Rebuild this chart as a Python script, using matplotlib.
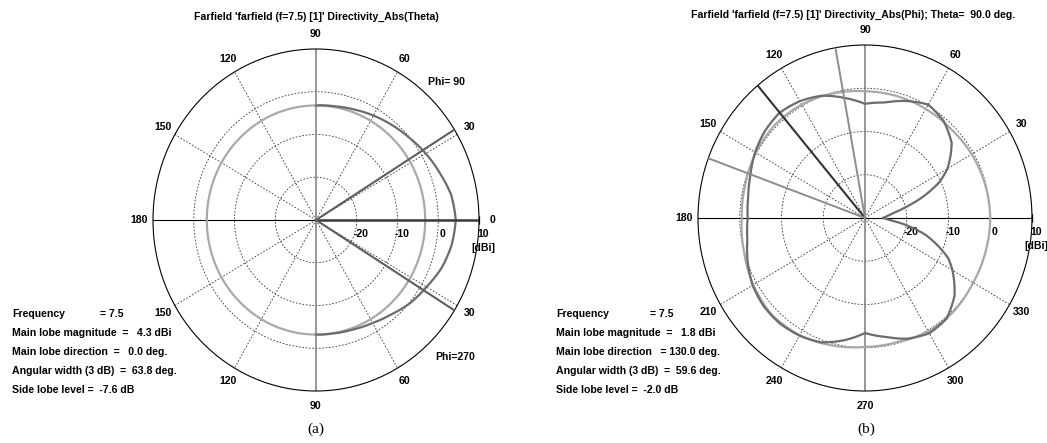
import numpy as np
import matplotlib
matplotlib.use("Agg")
import matplotlib.pyplot as plt

# --- dane ---
W_PX, H_PX = 1047, 443
R_MIN, R_MAX = -30, 10
R_GRID = [-20, -10, 0]
R_LABELS = ["-20", "-10", "0", "10"]
R_LABEL_POS = [-20, -10, 0, 10]
SPOKES = [30, 60, 120, 150, 210, 240, 300, 330]
LABEL_ANG = [0, 30, 60, 90, 120, 150, 180, 210, 240, 270, 300, 330]

# (a) Directivity_Abs(Theta)
LABELS_A = ["0", "30", "60", "90", "120", "150", "180", "150", "120", "90", "60", "30"]
DARK_A_ANG = [90, 80, 70, 60, 50, 40, 30, 20, 10, 0,
              -10, -20, -30, -40, -50, -60, -70, -80, -90]
DARK_A_DB = [-3.2, -3.0, -2.5, -1.8, -1.0, -0.1, 1.1, 2.3, 3.7, 4.3,
             3.8, 2.8, 1.3, 0.2, -1.2, -2.2, -2.8, -3.1, -3.2]
LIGHT_A_DB = -3.2
MAIN_DIR_A, WIDTH_A = 0.0, 63.8
INFO_A = ["Main lobe magnitude  =   4.3 dBi",
          "Main lobe direction  =   0.0 deg.",
          "Angular width (3 dB)  =  63.8 deg.",
          "Side lobe level =  -7.6 dB"]

# (b) Directivity_Abs(Phi)
LABELS_B = ["", "30", "60", "90", "120", "150", "180", "210", "240", "270", "300", "330"]
DARK_B_ANG = [0, 5, 10, 15, 20, 25, 30, 35, 40, 50, 60, 70, 80, 90, 100, 110, 120,
              130, 140, 150, 160, 170, 180, 190, 200, 210, 220, 230, 240, 250, 260,
              270, 280, 290, 300, 310, 320, 330, 335, 340, 345, 350, 355, 360]
DARK_B_DB = [-25.7, -24.7, -23.0, -19.5, -14.8, -10.3, -7.2, -5.0, -2.9, -0.7, 0.3,
             -1.2, -2.9, -3.6, -1.8, 0.1, 1.2, 1.8, 1.3, 0.4, -0.8, -1.6, -1.9, -1.4,
             -0.1, 1.1, 1.7, 1.8, 1.4, 0.6, -1.3, -3.4, -2.1, -0.3, 0.8, 0.4, -2.0,
             -5.8, -8.0, -11.5, -15.0, -19.5, -24.0, -25.7]
LIGHT_B_ANG = [0, 15, 30, 45, 60, 75, 90, 105, 120, 135, 150, 165, 180, 195, 210,
               225, 240, 255, 270, 285, 300, 315, 330, 345, 360]
LIGHT_B_DB = [0.0, -0.2, -0.5, -0.9, -0.9, -0.8, -0.7, -0.2, 0.3, 0.5, 0.2, -0.3,
              -0.5, 0.0, 0.9, 1.6, 1.3, 0.5, -0.2, -0.3, 0.3, 0.3, -0.1, -0.1, 0.0]
MAIN_DIR_B, WIDTH_B = 130.0, 59.6
INFO_B = ["Main lobe magnitude  =   1.8 dBi",
          "Main lobe direction   = 130.0 deg.",
          "Angular width (3 dB)  =  59.6 deg.",
          "Side lobe level =  -2.0 dB"]

FONT = ["Liberation Sans Narrow", "Liberation Sans", "DejaVu Sans"]
TXT = dict(family=FONT, fontweight="bold", fontsize=7.6, color="black")
DARK, LIGHT = "#6c6c6c", "#a9a9a9"


def fx(x):
    return x / W_PX


def fy(y):
    return 1 - y / H_PX


def curve(ax, ang, db, **kw):
    # krzywa rysowana jako łuki w układzie biegunowym, nie cięciwy
    ln, = ax.plot(np.deg2rad(ang), db, solid_joinstyle="round", **kw)
    ln.get_path()._interpolation_steps = 16
    return ln


def make_polar(fig, cx, cy, rx, ry, labels):
    ax = fig.add_axes([fx(cx - rx), fy(cy + ry), 2 * rx / W_PX, 2 * ry / H_PX],
                      projection="polar")
    ax.set_aspect("auto")
    ax.set_ylim(R_MIN, R_MAX)
    ax.set_xticks(np.deg2rad(SPOKES))
    ax.set_yticks(R_GRID)
    ax.set_xticklabels([])
    ax.set_yticklabels([])
    ax.tick_params(length=0)
    ax.grid(True, linestyle=(0, (2, 2)), linewidth=0.6, color="#333333")
    ax.spines["polar"].set_linewidth(0.8)
    # osie
    for a in (0, 180):
        ax.plot([np.deg2rad(a)] * 2, [R_MIN, R_MAX], color="black", lw=0.8, zorder=2)
    for a in (90, 270):
        ax.plot([np.deg2rad(a)] * 2, [R_MIN, R_MAX], color="#7a7a7a", lw=1.1, zorder=2)
    ax.plot([0], [R_MAX], marker="|", ms=6, mew=0.9, color="black", clip_on=False)
    for a, lab in zip(LABEL_ANG, labels):
        ax.text(np.deg2rad(a), 13.4, lab, ha="center", va="center", **TXT)
    for r, lab in zip(R_LABEL_POS, R_LABELS):
        ax.annotate(lab, (0, r), xytext=(3, -10), textcoords="offset points",
                    ha="center", va="center", **TXT)
    ax.annotate("[dBi]", (0, R_MAX), xytext=(3, -20), textcoords="offset points",
                ha="center", va="center", **TXT)
    return ax


fig = plt.figure(figsize=(W_PX / 100, H_PX / 100), dpi=100)

# --- (a) ---
ax_a = make_polar(fig, 316, 220, 163, 171, LABELS_A)
th = np.linspace(0, 2 * np.pi, 361)
ax_a.plot(th, np.full_like(th, LIGHT_A_DB), color=LIGHT, lw=1.6, zorder=3)
curve(ax_a, DARK_A_ANG, DARK_A_DB, color=DARK, lw=1.6, zorder=4)
ax_a.plot([np.deg2rad(MAIN_DIR_A)] * 2, [R_MIN, R_MAX], color="#3a3a3a", lw=1.8, zorder=5)
for s in (-1, 1):
    a = np.deg2rad(MAIN_DIR_A + s * WIDTH_A / 2)
    ax_a.plot([a, a], [R_MIN, R_MAX], color="#5e5e5e", lw=1.5, zorder=5)

# --- (b) ---
ax_b = make_polar(fig, 865, 218, 167, 173, LABELS_B)
curve(ax_b, LIGHT_B_ANG, LIGHT_B_DB, color=LIGHT, lw=1.6, zorder=3)
curve(ax_b, DARK_B_ANG, DARK_B_DB, color=DARK, lw=1.6, zorder=4)
ax_b.plot([np.deg2rad(MAIN_DIR_B)] * 2, [R_MIN, R_MAX], color="#333333", lw=1.5, zorder=5)
for s in (-1, 1):
    a = np.deg2rad(MAIN_DIR_B + s * WIDTH_B / 2)
    ax_b.plot([a, a], [R_MIN, R_MAX], color="#8c8c8c", lw=1.4, zorder=5)

# --- teksty ---
fig.text(fx(316), fy(17), "Farfield 'farfield (f=7.5) [1]' Directivity_Abs(Theta)",
         ha="center", va="center", **TXT)
fig.text(fx(853), fy(15), "Farfield 'farfield (f=7.5) [1]' Directivity_Abs(Phi); Theta=  90.0 deg.",
         ha="center", va="center", **TXT)
fig.text(fx(447), fy(82), "Phi= 90", ha="center", va="center", **TXT)
fig.text(fx(455), fy(357), "Phi=270", ha="center", va="center", **TXT)

for x0, xv, info in ((12, 100, INFO_A), (556, 650, INFO_B)):
    fig.text(fx(x0), fy(314), "Frequency", ha="left", va="center", **TXT)
    fig.text(fx(xv), fy(314), "= 7.5", ha="left", va="center", **TXT)
    for i, line in enumerate(info):
        fig.text(fx(x0), fy(333 + 19 * i), line, ha="left", va="center", **TXT)

for x0, lab in ((316, "(a)"), (866, "(b)")):
    fig.text(fx(x0), fy(429), lab, ha="center", va="center",
             family=["Liberation Serif", "DejaVu Serif"], fontsize=11)

fig.savefig("out.png", dpi=100)
